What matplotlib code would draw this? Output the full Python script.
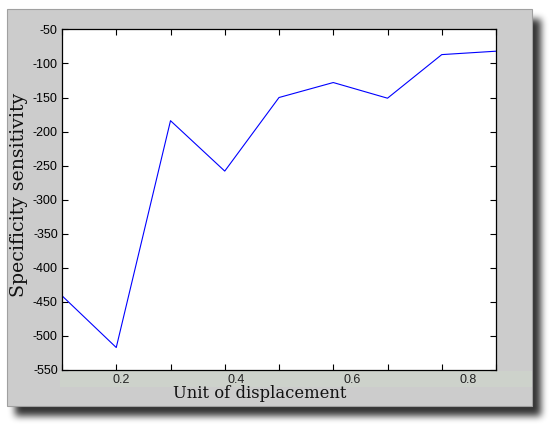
import numpy as np
import matplotlib
matplotlib.use("Agg")
import matplotlib.pyplot as plt
from matplotlib.patches import Rectangle

# data
displacement = [0.1, 0.2, 0.3, 0.4, 0.5, 0.6, 0.7, 0.8, 0.9]
sensitivity = [-441, -517, -184, -258, -150, -128, -151, -87, -82]
y_ticks = list(range(-550, -49, 50))
strip_labels = [0.2, 0.4, 0.6, 0.8]

W, H = 556, 430
fig = plt.figure(figsize=(W / 100, H / 100), dpi=100, facecolor="white")


def frac(x0, y0, x1, y1):
    # pixel box (top-left origin) -> figure fraction rect
    return [x0 / W, (H - y1) / H, (x1 - x0) / W, (y1 - y0) / H]


# soft drop shadow behind the panel
mask = np.zeros((H, W))
mask[19:416, 15:541] = 1.0
k = np.ones(7) / 7
for _ in range(3):
    mask = np.apply_along_axis(lambda r: np.convolve(r, k, mode="same"), 1, mask)
    mask = np.apply_along_axis(lambda c: np.convolve(c, k, mode="same"), 0, mask)
shadow = np.zeros((H, W, 4))
shadow[..., 3] = mask * 0.8
bg = fig.add_axes([0, 0, 1, 1], zorder=-10)
bg.imshow(shadow, extent=(0, W, H, 0), interpolation="nearest")
bg.set_xlim(0, W)
bg.set_ylim(H, 0)
bg.axis("off")

# grey window panel
fig.patches.append(Rectangle(frac(7, 9, 532, 406)[:2], 525 / W, 397 / H,
                             transform=fig.transFigure, facecolor="#cccccc",
                             edgecolor="#a0a0a0", lw=0.8, zorder=-5))

# pasted label strip under the axes
strip = fig.add_axes(frac(60, 370.7, 532, 387), zorder=0.5)
strip.set_facecolor("#cdd2cb")
strip.set_xlim(0.0944, 0.9113)
strip.set_ylim(0, 1)
for s in strip.spines.values():
    s.set_visible(False)
strip.set_xticks([])
strip.set_yticks([])
for v in strip_labels:
    strip.text(v, 0.45, f"{v:.1f}", ha="center", va="center", fontsize=9,
               family="Liberation Sans", color="#222222")

ax = fig.add_axes(frac(62, 29.4, 496, 370), zorder=1)
ax.set_facecolor("white")
ax.plot(displacement, sensitivity, color="#0000ff", lw=0.8)
ax.set_xlim(0.1, 0.9)
ax.set_ylim(-550, -50)
ax.set_xticks(displacement)
ax.set_xticklabels([])
ax.set_yticks(y_ticks)
ax.set_yticklabels([str(t) for t in y_ticks], family="Liberation Sans",
                   fontsize=9, color="#111111")
ax.tick_params(direction="in", length=4.5, width=0.8, top=True, right=True,
               pad=3, colors="black")
for s in ax.spines.values():
    s.set_linewidth(0.9)

fig.text(260 / W, (H - 394) / H, "Unit of displacement", ha="center",
         va="center", family="DejaVu Serif", fontsize=11.8, color="#111111")
fig.text(19 / W, (H - 195) / H, "Specificity sensitivity", ha="center",
         va="center", rotation=90, family="DejaVu Serif", fontsize=13.6,
         color="#111111")

fig.savefig("out.png", dpi=100, facecolor="white")
